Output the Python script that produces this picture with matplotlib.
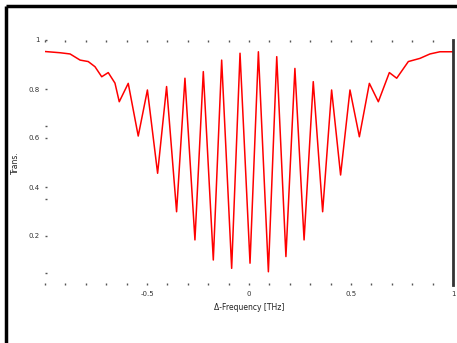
import matplotlib
matplotlib.use("Agg")
import matplotlib.pyplot as plt
from matplotlib.lines import Line2D
from matplotlib.ticker import MultipleLocator, FixedLocator

# Values (extrema / shoulder points of the trace)
freq = [-1.0, -0.926, -0.877, -0.828, -0.788, -0.755, -0.722, -0.690, -0.657,
        -0.636, -0.592, -0.543, -0.498, -0.448, -0.404, -0.355, -0.314, -0.265,
        -0.224, -0.175, -0.134, -0.085, -0.044, 0.005, 0.046, 0.095, 0.136,
        0.181, 0.225, 0.270, 0.315, 0.361, 0.405, 0.449, 0.495, 0.541, 0.590,
        0.634, 0.688, 0.724, 0.781, 0.838, 0.887, 0.936, 1.0]
trans = [0.953, 0.948, 0.943, 0.918, 0.912, 0.891, 0.850, 0.867, 0.824,
         0.748, 0.823, 0.608, 0.796, 0.456, 0.810, 0.299, 0.844, 0.184,
         0.871, 0.102, 0.918, 0.068, 0.946, 0.089, 0.952, 0.054, 0.932,
         0.116, 0.884, 0.184, 0.830, 0.299, 0.796, 0.449, 0.796, 0.605, 0.823,
         0.748, 0.867, 0.844, 0.912, 0.925, 0.943, 0.952, 0.952]

xticks = [-0.5, 0, 0.5, 1]
xticklabels = ["-0.5", "0", "0.5", "1"]
yticks = [0.2, 0.4, 0.6, 0.8, 1]
yticklabels = ["0.2", "0.4", "0.6", "0.8", "1"]
y_minor = [0.05, 0.35, 0.65]

fig = plt.figure(figsize=(4.57, 3.43), dpi=100)
ax = fig.add_axes([45/457, 1-285/343, 408/457, 245/343])
ax.plot(freq, trans, color="red", lw=1.1)
ax.set_xlim(-1, 1)
ax.set_ylim(0, 1)
ax.set_xticks(xticks)
ax.set_xticklabels(xticklabels)
ax.set_yticks(yticks)
ax.set_yticklabels(yticklabels)
ax.xaxis.set_minor_locator(MultipleLocator(0.1))
ax.yaxis.set_minor_locator(FixedLocator(y_minor))
ax.tick_params(which="both", direction="in", length=1.2, width=1,
               color="#555555", top=True, right=False, labelsize=5,
               labelcolor="#333333", pad=4)
for s in ["left", "top", "bottom"]:
    ax.spines[s].set_visible(False)
ax.spines["right"].set_color("#333333")
ax.spines["right"].set_linewidth(2)

ax.set_xlabel("Δ-Frequency [THz]", fontsize=5.5, color="#222222", labelpad=5)
ax.set_ylabel("Trans.", fontsize=5.5, color="#222222", labelpad=6)

# thick black frame around figure (top and left visible)
fig.add_artist(Line2D([5.5/457, 1], [1-5.5/343, 1-5.5/343], transform=fig.transFigure,
                      color="black", lw=2.5, solid_capstyle="butt"))
fig.add_artist(Line2D([5.5/457, 5.5/457], [0, 1-5.5/343], transform=fig.transFigure,
                      color="black", lw=2.5, solid_capstyle="butt"))

fig.savefig("out.png", dpi=100)
